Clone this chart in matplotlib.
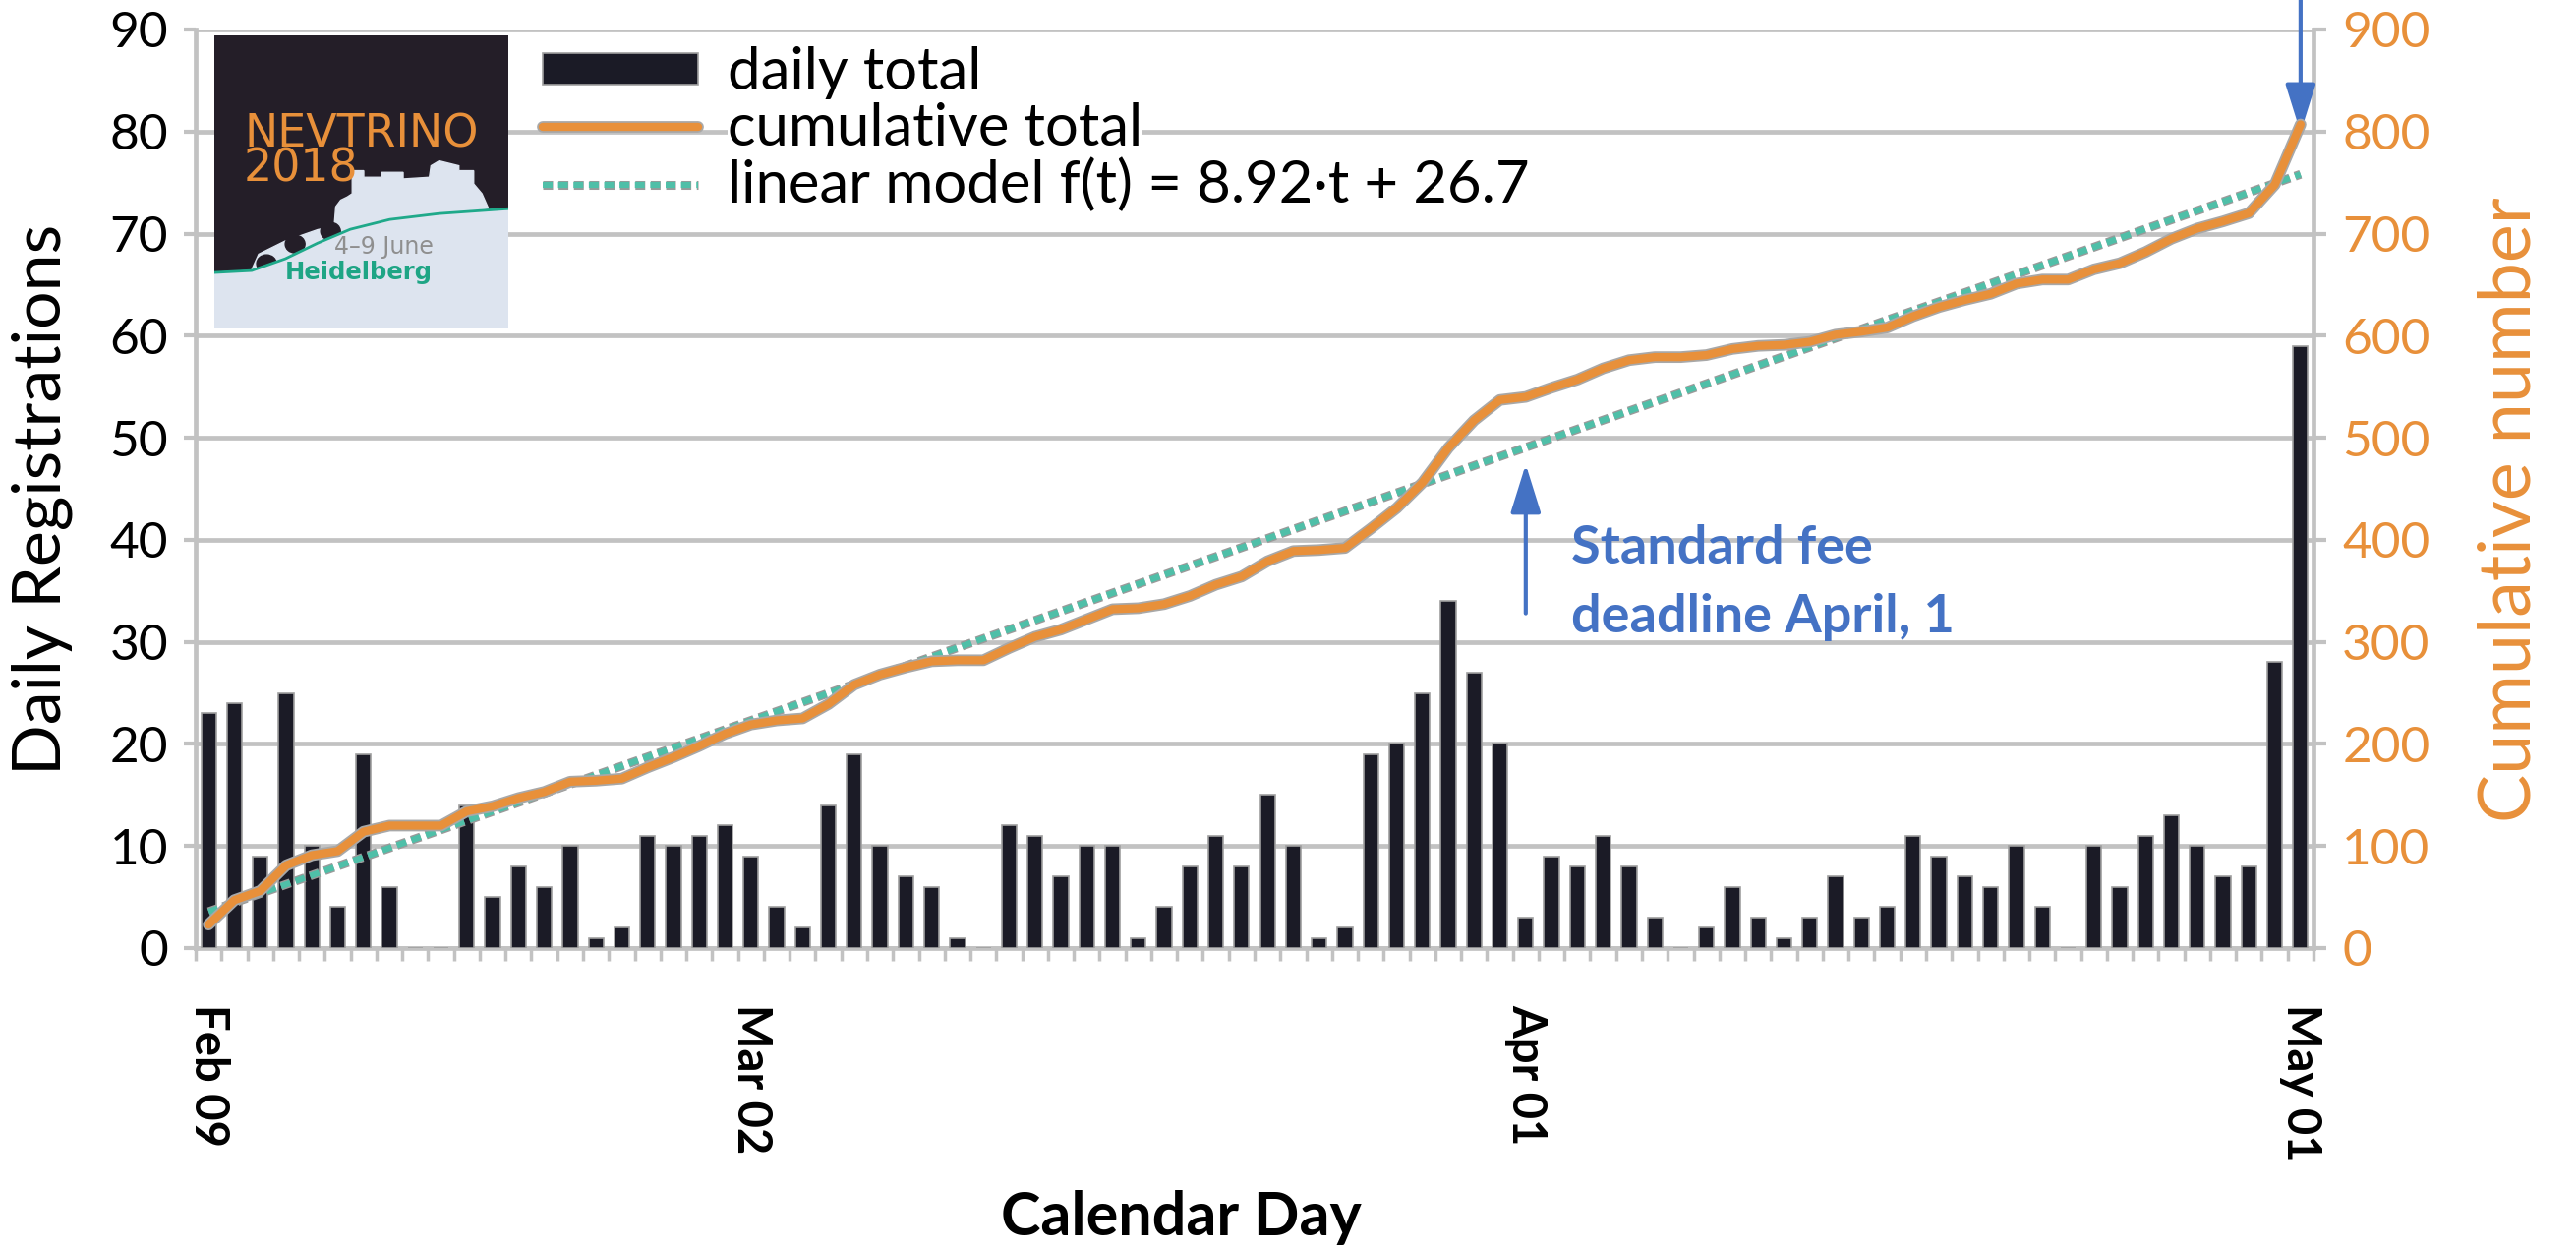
import numpy as np
import matplotlib
matplotlib.use('Agg')
import matplotlib.pyplot as plt
import matplotlib.patheffects as pe
from matplotlib.patches import Rectangle, Polygon, Ellipse

plt.rcParams['font.family'] = ['Lato', 'DejaVu Sans']

# registrations per day, Feb 09 ... May 01
daily = [23, 24, 9, 25, 10, 4, 19, 6, 0, 0,
         14, 5, 8, 6, 10, 1, 2, 11, 10, 11,
         12, 9, 4, 2, 14, 19, 10, 7, 6, 1,
         0, 12, 11, 7, 10, 10, 1, 4, 8, 11,
         8, 15, 10, 1, 2, 19, 20, 25, 34, 27,
         20, 3, 9, 8, 11, 8, 3, 0, 2, 6,
         3, 1, 3, 7, 3, 4, 11, 9, 7, 6,
         10, 4, 0, 10, 6, 11, 13, 10, 7, 8,
         28, 59]
tick_days = [0, 21, 51, 81]
tick_labels = ['Feb 09', 'Mar 02', 'Apr 01', 'May 01']
slope, intercept = 8.92, 26.7
deadline_day = 51

days = np.arange(len(daily))
cumulative = np.cumsum(daily)
model = slope * (days + 1) + intercept

ORANGE = '#e8903a'
TEAL = '#4fbfa8'
GRID = '#c2c2c2'
BLUE = '#4472c4'

W, H = 2620, 1271
fig = plt.figure(figsize=(W / 100, H / 100), dpi=100)


def frac(x0, y0, x1, y1):
    return [x0 / W, 1 - y1 / H, (x1 - x0) / W, (y1 - y0) / H]


ax = fig.add_axes(frac(199, 30, 2353, 964))
ax.bar(days, daily, width=0.58, color='#1b1b26', edgecolor='#a0a0a0',
       linewidth=1.2, zorder=3)
ax.set_xlim(-0.5, len(daily) - 0.5)
ax.set_ylim(0, 90)
ax.set_yticks(range(0, 91, 10))
ax.yaxis.grid(True, color=GRID, lw=3.4, zorder=0)
ax.set_axisbelow(True)
ax.set_xticks(tick_days)
ax.set_xticklabels(tick_labels, rotation=270, fontweight='bold', fontsize=34,
                   va='top', ha='center')
ax.set_xticks(np.arange(-0.5, len(daily), 1), minor=True)
ax.tick_params(axis='x', which='major', length=0, pad=41)
ax.tick_params(axis='x', which='minor', length=9, width=2.5, color=GRID)
ax.tick_params(axis='y', length=9, width=3, color=GRID, labelsize=37, pad=11)
for s in ['left', 'right', 'bottom']:
    ax.spines[s].set_color(GRID)
    ax.spines[s].set_linewidth(3.4)
ax.spines['top'].set_visible(False)

ax2 = ax.twinx()
ax2.set_ylim(0, 900)
ax2.set_yticks(range(0, 901, 100))
ax2.tick_params(axis='y', length=9, width=3, color=GRID, labelsize=37,
                labelcolor=ORANGE, pad=12)
for s in ax2.spines.values():
    s.set_visible(False)

ax2.plot(days, model, color=TEAL, lw=4.5, dashes=(1.6, 0.9), zorder=4,
         path_effects=[pe.Stroke(linewidth=6.5, foreground='#9a9a9a'), pe.Normal()],
         label='linear model f(t) = 8.92\u00b7t + 26.7')
ax2.plot(days, cumulative, color=ORANGE, lw=6, zorder=5, solid_capstyle='round',
         path_effects=[pe.Stroke(linewidth=8.5, foreground='#a8a8a8'), pe.Normal()],
         label='cumulative total')

# annotations
ax2.annotate('', xy=(deadline_day, 474), xytext=(deadline_day, 328),
             arrowprops=dict(arrowstyle='-|>,head_length=0.8,head_width=0.25',
                             color=BLUE, lw=3, mutation_scale=38, shrinkA=0, shrinkB=0))
ax2.text(52.76, 376.8, 'Standard fee', color=BLUE, fontsize=39, fontweight='bold',
         va='baseline', ha='left')
ax2.text(52.76, 309.3, 'deadline April, 1', color=BLUE, fontsize=39, fontweight='bold',
         va='baseline', ha='left')
ax2.annotate('', xy=(days[-1], cumulative[-1] - 8), xytext=(days[-1], 935),
             annotation_clip=False,
             arrowprops=dict(arrowstyle='-|>,head_length=0.8,head_width=0.25',
                             color=BLUE, lw=3, mutation_scale=38, shrinkA=0, shrinkB=0))

# legend
bar_handle = Rectangle((0, 0), 1, 1, facecolor='#1b1b26', edgecolor='#a0a0a0', lw=1.2)
h_lines, l_lines = ax2.get_legend_handles_labels()
leg = ax2.legend([bar_handle, h_lines[1], h_lines[0]],
                 ['daily total', l_lines[1], l_lines[0]],
                 loc='upper left', bbox_to_anchor=(552 / W, 1 - 47 / H),
                 bbox_transform=fig.transFigure, frameon=False, fontsize=43,
                 borderpad=0, borderaxespad=0, handlelength=2.65, handleheight=0.45,
                 handletextpad=0.5, labelspacing=0.05)
for t in leg.get_texts():
    t.set_bbox(dict(facecolor='white', edgecolor='none', pad=0))

fig.text(43 / W, 1 - 508 / H, 'Daily Registrations', rotation=90, fontsize=49,
         ha='center', va='center')
fig.text(2553 / W, 1 - 518 / H, 'Cumulative number', rotation=90, fontsize=53,
         ha='center', va='center', color=ORANGE)
fig.text(1201 / W, 1 - 1238 / H, 'Calendar Day', fontsize=44, fontweight='bold',
         ha='center', va='center')

# conference logo
lg = fig.add_axes(frac(218, 36, 517, 334))
lg.set_xlim(0, 298.5)
lg.set_ylim(0, 298.5)
lg.axis('off')
LIGHT = '#dde4ef'
DARK = '#241e28'
lg.add_patch(Rectangle((0, 0), 298.5, 298.5, color=DARK, zorder=0))
hill = [(0, 57), (38, 59), (72, 71), (105, 87), (138, 101), (178, 111),
        (228, 117), (298.5, 122)]
castle = [(38.3, 60.7), (45, 75.7), (71.7, 89), (105, 100.7), (121.7, 104),
          (123.3, 124), (128.3, 130.7), (135, 134), (140, 137.3), (140, 160.7),
          (151.7, 160.7), (151.7, 154), (170, 154), (170, 159), (191.7, 159),
          (191.7, 152.3), (218.3, 154), (220, 165.7), (228.3, 170.7),
          (248.3, 165.7), (248.3, 160.7), (263.3, 160.7), (263.3, 147.3),
          (271.7, 137.3), (278.3, 122.3), (228, 117), (178, 111), (138, 101),
          (105, 87), (72, 71), (38, 59)]
lg.add_patch(Polygon(castle, closed=True, color=LIGHT, zorder=1))
for cx, cy in [(53, 66), (82, 86), (118, 99)]:
    lg.add_patch(Ellipse((cx, cy), 20, 18, color=DARK, zorder=2))
lg.add_patch(Polygon([(0, 0)] + hill + [(298.5, 0)], closed=True, color=LIGHT, zorder=3))
hx, hy = zip(*hill)
lg.plot(hx, hy, color='#1fa98a', lw=2, zorder=4)
lg.text(30, 220, 'NEVTRINO\n2018', color=ORANGE, fontsize=33, family='DejaVu Sans',
        ha='left', va='top', linespacing=0.72, zorder=5)
lg.text(122, 76.6, '4\u20139 June', color='#8f8f8f', fontsize=17, family='DejaVu Sans',
        ha='left', va='baseline', zorder=5)
lg.text(72, 49.8, 'Heidelberg', color='#1ea585', fontsize=17.5, fontweight='bold',
        family='DejaVu Sans', ha='left', va='baseline', zorder=5)

fig.savefig('out.png', dpi=100)
